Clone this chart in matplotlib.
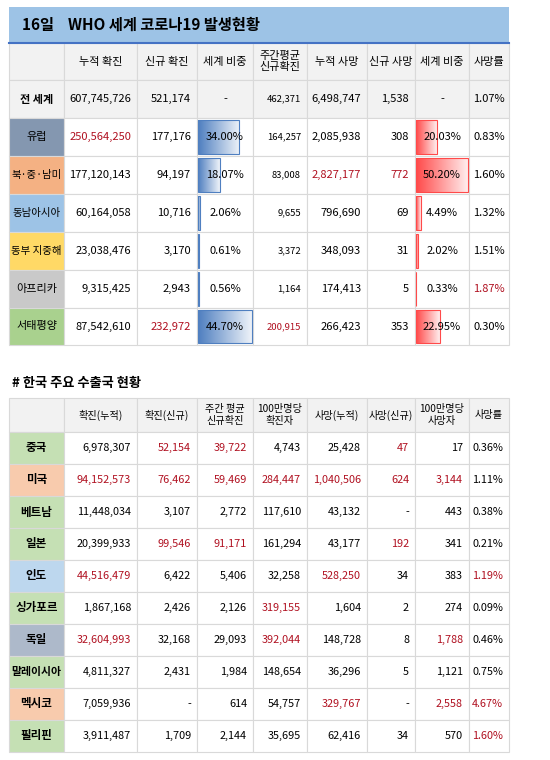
import numpy as np
import matplotlib
matplotlib.use("Agg")
from matplotlib import pyplot as plt
from matplotlib.patches import Rectangle

plt.rcParams['font.family'] = ['Noto Sans CJK KR', 'DejaVu Sans']

# ---- top table data (WHO regions)
regions = ['전 세계', '유럽', '북·중·남미', '동남아시아', '동부 지중해', '아프리카', '서태평양']
region_colors = ['#f2f2f2', '#8497b0', '#f4b183', '#9dc3e6', '#ffd966', '#c9c9c9', '#a9d18e']
top_headers = ['누적 확진', '신규 확진', '세계 비중', '주간평균\n신규확진', '누적 사망', '신규 사망', '세계 비중', '사망률']
cum_cases = ['607,745,726', '250,564,250', '177,120,143', '60,164,058', '23,038,476', '9,315,425', '87,542,610']
new_cases = ['521,174', '177,176', '94,197', '10,716', '3,170', '2,943', '232,972']
case_share = [None, 34.00, 18.07, 2.06, 0.61, 0.56, 44.70]
weekly_avg = ['462,371', '164,257', '83,008', '9,655', '3,372', '1,164', '200,915']
cum_deaths = ['6,498,747', '2,085,938', '2,827,177', '796,690', '348,093', '174,413', '266,423']
new_deaths = ['1,538', '308', '772', '69', '31', '5', '353']
death_share = [None, 20.03, 50.20, 4.49, 2.02, 0.33, 22.95]
death_rate = ['1.07%', '0.83%', '1.60%', '1.32%', '1.51%', '1.87%', '0.30%']
# columns (0-based over data cols) shown in red
top_red = [[], [0], [4, 5], [], [], [7], [1, 3]]

# ---- bottom table data (countries)
countries = ['중국', '미국', '베트남', '일본', '인도', '싱가포르', '독일', '말레이시아', '멕시코', '필리핀']
country_colors = ['#c5e0b4', '#f8cbad', '#c5e0b4', '#c5e0b4', '#bdd7ee', '#c5e0b4', '#adb9ca', '#c5e0b4', '#f8cbad', '#c5e0b4']
bot_headers = ['확진(누적)', '확진(신규)', '주간 평균\n신규확진', '100만명당\n확진자', '사망(누적)', '사망(신규)', '100만명당\n사망자', '사망률']
bot_values = [
    ['6,978,307', '52,154', '39,722', '4,743', '25,428', '47', '17', '0.36%'],
    ['94,152,573', '76,462', '59,469', '284,447', '1,040,506', '624', '3,144', '1.11%'],
    ['11,448,034', '3,107', '2,772', '117,610', '43,132', '-', '443', '0.38%'],
    ['20,399,933', '99,546', '91,171', '161,294', '43,177', '192', '341', '0.21%'],
    ['44,516,479', '6,422', '5,406', '32,258', '528,250', '34', '383', '1.19%'],
    ['1,867,168', '2,426', '2,126', '319,155', '1,604', '2', '274', '0.09%'],
    ['32,604,993', '32,168', '29,093', '392,044', '148,728', '8', '1,788', '0.46%'],
    ['4,811,327', '2,431', '1,984', '148,654', '36,296', '5', '1,121', '0.75%'],
    ['7,059,936', '-', '614', '54,757', '329,767', '-', '2,558', '4.67%'],
    ['3,911,487', '1,709', '2,144', '35,695', '62,416', '34', '570', '1.60%'],
]
bot_red = [[1, 2, 5], [0, 1, 2, 3, 4, 5, 6], [], [1, 2, 5], [0, 4, 7], [3], [0, 3, 6], [], [4, 6, 7], [7]]

RED = '#b01020'
GRID = '#d9d9d9'
xs = [9, 64, 137, 197, 253, 307, 367, 415, 469, 509]

fig = plt.figure(figsize=(5.5, 7.6), dpi=100)
ax = fig.add_axes([0, 0, 1, 1])
ax.set_xlim(0, 550)
ax.set_ylim(760, 0)
ax.axis('off')


def cell(x0, x1, y0, y1, fc):
    ax.add_patch(Rectangle((x0, y0), x1 - x0, y1 - y0, fc=fc, ec=GRID, lw=0.8, zorder=1))


def put(txt, x0, x1, y0, y1, align, color='black', size=8, weight='normal'):
    ym = (y0 + y1) / 2
    if align == 'c':
        ax.text((x0 + x1) / 2, ym, txt, ha='center', va='center', fontsize=size, color=color,
                weight=weight, zorder=4, linespacing=1.2)
    else:
        ax.text(x1 - 6, ym, txt, ha='right', va='center', fontsize=size, color=color,
                weight=weight, zorder=4)


def gradbar(x0, y0, y1, w, c0):
    grad = np.linspace(0, 1, 50)[None, :]
    c0 = np.array(matplotlib.colors.to_rgb(c0))
    img = c0[None, None, :] * (1 - grad[..., None] * 0.9) + np.ones(3) * grad[..., None] * 0.9
    ax.imshow(img, extent=(x0, x0 + w, y1, y0), aspect='auto', zorder=2)
    ax.add_patch(Rectangle((x0, y0), w, y1 - y0, fc='none', ec=c0, lw=0.8, zorder=3))


# title band
ax.add_patch(Rectangle((9, 7), 500, 36, fc='#9dc3e6', ec='none'))
ax.plot([9, 509], [43, 43], color='#4472c4', lw=1.5, zorder=5)
ax.text(22, 25, '16일    WHO 세계 코로나19 발생현황', fontsize=11, weight='bold', va='center')

# top header
ty = [43, 80] + [80 + 38 * (i + 1) for i in range(7)]
ty[-1] = 345
cell(xs[0], xs[1], ty[0], ty[1], '#f2f2f2')
for j, h in enumerate(top_headers):
    cell(xs[j + 1], xs[j + 2], ty[0], ty[1], '#f2f2f2')
    put(h, xs[j + 1], xs[j + 2], ty[0], ty[1], 'c', size=8)

for i, r in enumerate(regions):
    y0, y1 = ty[i + 1], ty[i + 2]
    bold = 'bold' if i == 0 else 'normal'
    bg = '#f2f2f2' if i == 0 else 'white'
    cell(xs[0], xs[1], y0, y1, region_colors[i])
    put(r, xs[0], xs[1], y0, y1, 'c', size=7.5 if len(r) > 4 else 8, weight=bold)
    row = [cum_cases[i], new_cases[i], case_share[i], weekly_avg[i],
           cum_deaths[i], new_deaths[i], death_share[i], death_rate[i]]
    for j, v in enumerate(row):
        x0, x1 = xs[j + 1], xs[j + 2]
        cell(x0, x1, y0, y1, bg)
        col = RED if j in top_red[i] else 'black'
        if j in (2, 6):
            if v is None:
                put('-', x0, x1, y0, y1, 'c')
            else:
                if j == 2:
                    gradbar(x0 + 1, y0 + 2, y1 - 2, v / 44.70 * 54, '#4f7fc0')
                else:
                    gradbar(x0 + 1, y0 + 2, y1 - 2, v / 50.20 * 52, '#ff4a4a')
                put('%.2f%%' % v, x0, x1, y0, y1, 'c', color=col)
        elif j == 7:
            put(v, x0, x1, y0, y1, 'c', color=col)
        else:
            put(v, x0, x1, y0, y1, 'r', color=col, size=6.8 if j == 3 else 8)

# second section
ax.text(12, 383, '# 한국 주요 수출국 현황', fontsize=9.5, weight='bold', va='center')
by = [398, 432] + [432 + 32 * (i + 1) for i in range(10)]
cell(xs[0], xs[1], by[0], by[1], '#f2f2f2')
for j, h in enumerate(bot_headers):
    cell(xs[j + 1], xs[j + 2], by[0], by[1], '#f2f2f2')
    put(h, xs[j + 1], xs[j + 2], by[0], by[1], 'c', size=7.3)

for i, c in enumerate(countries):
    y0, y1 = by[i + 1], by[i + 2]
    cell(xs[0], xs[1], y0, y1, country_colors[i])
    put(c, xs[0], xs[1], y0, y1, 'c', size=7.8 if len(c) > 4 else 8.3, weight='bold')
    for j, v in enumerate(bot_values[i]):
        x0, x1 = xs[j + 1], xs[j + 2]
        cell(x0, x1, y0, y1, 'white')
        col = RED if j in bot_red[i] else 'black'
        put(v, x0, x1, y0, y1, 'r', color=col, size=7.8)

fig.savefig('out.png', dpi=100, facecolor='white')
